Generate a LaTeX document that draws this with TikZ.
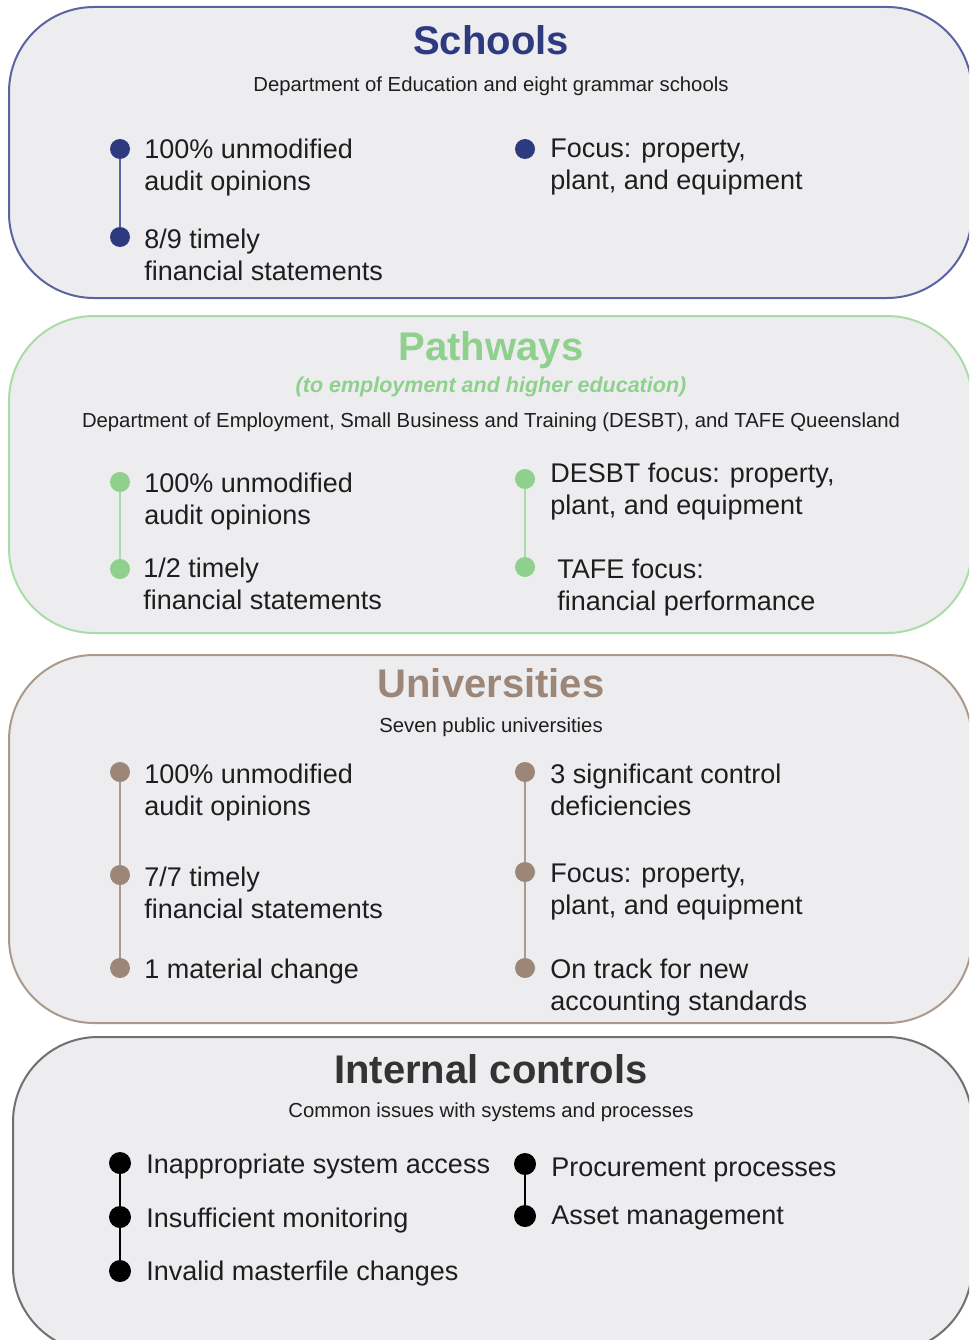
\documentclass[tikz,border=0pt]{standalone}
\usepackage{fontspec}
\setmainfont{Liberation Sans}
\usetikzlibrary{positioning}

\definecolor{panelgrey}{HTML}{EDEDF0}
\definecolor{bodytext}{HTML}{1E1E1E}
\definecolor{schoolblue}{HTML}{2E3A7F}
\definecolor{schoolline}{HTML}{5C64A0}
\definecolor{pathgreen}{HTML}{8FD18C}
\definecolor{pathline}{HTML}{A9DCA6}
\definecolor{unibrown}{HTML}{9C8677}
\definecolor{uniline}{HTML}{AB9A8C}
\definecolor{ctrlgrey}{HTML}{333333}
\definecolor{ctrlline}{HTML}{707070}

\begin{document}
\begin{tikzpicture}[x=1pt,y=-1pt,
		panel/.style={line width=2pt,fill=panelgrey,rounded corners=85pt},
		dot node/.style={circle,fill=#1,inner sep=0pt,minimum size=20pt},
		big dot/.style={circle,fill=black,inner sep=0pt,minimum size=22pt},
		item/.style={font=\fontsize{27}{32}\selectfont,text=bodytext,align=left,inner sep=0pt,anchor=north west},
		heading/.style={font=\fontsize{40}{44}\selectfont\bfseries,anchor=base},
		subheading/.style={font=\fontsize{20.3}{24}\selectfont,text=bodytext,anchor=base},
		link/.style={line width=2.5pt,draw=#1}]

		\useasboundingbox (0,0) rectangle (969,1340);
		\fill[white] (0,0) rectangle (969,1340);
		\clip (0,0) rectangle (969,1340);

		% panels
		\draw[panel,draw=schoolline] (9,7) rectangle (972,298);
		\draw[panel,draw=pathline] (9,316) rectangle (972,633);
		\draw[panel,draw=uniline] (9,655) rectangle (972,1023);
		\draw[panel,draw=ctrlline] (13,1037) rectangle (972,1352);

		% schools
		\node[heading,text=schoolblue] (schools) at (491,55) {Schools};
		\node[subheading] (schoolsub) at (491,92) {Department of Education and eight grammar schools};
		\node[dot node=schoolblue] (s1) at (120,149) {};
		\node[dot node=schoolblue] (s2) at (120,237) {};
		\node[dot node=schoolblue] (s3) at (525,149) {};
		\node[item,below right=-10pt and 14pt of s1.east] (s1t) {100\% unmodified\\audit opinions};
		\node[item,below right=-8pt and 14pt of s2.east] (s2t) {8/9 timely\\financial statements};
		\node[item,below right=-10pt and 15pt of s3.east] (s3t) {Focus: property,\\plant, and equipment};
		\path[link=schoolline] (s1) edge (s2);

		% pathways
		\node[heading,text=pathgreen] (pathways) at (491,360) {Pathways};
		\node[font=\fontsize{21.5}{24}\selectfont\bfseries\itshape,text=pathgreen,anchor=base] (pathnote) at (491,392) {(to employment and higher education)};
		\node[subheading] (pathsub) at (491,427) {Department of Employment, Small Business and Training (DESBT), and TAFE Queensland};
		\node[dot node=pathgreen] (p1) at (120,482) {};
		\node[dot node=pathgreen] (p2) at (120,569) {};
		\node[dot node=pathgreen] (p3) at (525,479) {};
		\node[dot node=pathgreen] (p4) at (525,567) {};
		\node[item,below right=-9pt and 14pt of p1.east] (p1t) {100\% unmodified\\audit opinions};
		\node[item,below right=-11pt and 13pt of p2.east] (p2t) {1/2 timely\\financial statements};
		\node[item,below right=-16pt and 15pt of p3.east] (p3t) {DESBT focus: property,\\plant, and equipment};
		\node[item,below right=-8pt and 22pt of p4.east] (p4t) {TAFE focus:\\financial performance};
		\path[link=pathline] (p1) edge (p2)
			(p3) edge (p4);

		% universities
		\node[heading,text=unibrown] (unis) at (491,697) {Universities};
		\node[subheading] (unisub) at (491,732) {Seven public universities};
		\node[dot node=unibrown] (u1) at (120,772) {};
		\node[dot node=unibrown] (u2) at (120,875) {};
		\node[dot node=unibrown] (u3) at (120,968) {};
		\node[dot node=unibrown] (u4) at (525,772) {};
		\node[dot node=unibrown] (u5) at (525,872) {};
		\node[dot node=unibrown] (u6) at (525,968) {};
		\node[item,below right=-8pt and 14pt of u1.east] (u1t) {100\% unmodified\\audit opinions};
		\node[item,below right=-8pt and 14pt of u2.east] (u2t) {7/7 timely\\financial statements};
		\node[item,below right=-9pt and 14pt of u3.east] (u3t) {1 material change};
		\node[item,below right=-8pt and 15pt of u4.east] (u4t) {3 significant control\\deficiencies};
		\node[item,below right=-8pt and 15pt of u5.east] (u5t) {Focus: property,\\plant, and equipment};
		\node[item,below right=-9pt and 15pt of u6.east] (u6t) {On track for new\\accounting standards};
		\path[link=uniline] (u1) edge (u2)
			(u2) edge (u3)
			(u4) edge (u5)
			(u5) edge (u6);

		% internal controls
		\node[heading,text=ctrlgrey] (controls) at (491,1083) {Internal controls};
		\node[subheading] (ctrlsub) at (491,1117) {Common issues with systems and processes};
		\node[big dot] (c1) at (120,1163) {};
		\node[big dot] (c2) at (120,1217) {};
		\node[big dot] (c3) at (120,1271) {};
		\node[big dot] (c4) at (525,1164) {};
		\node[big dot] (c5) at (525,1216) {};
		\node[item,below right=-9pt and 15pt of c1.east] (c1t) {Inappropriate system access};
		\node[item,below right=-9pt and 15pt of c2.east] (c2t) {Insufficient monitoring};
		\node[item,below right=-10pt and 15pt of c3.east] (c3t) {Invalid masterfile changes};
		\node[item,below right=-6pt and 15pt of c4.east] (c4t) {Procurement processes};
		\node[item,below right=-10pt and 15pt of c5.east] (c5t) {Asset management};
		\path[link=black] (c1) edge (c2)
			(c2) edge (c3)
			(c4) edge (c5);
\end{tikzpicture}
\end{document}
